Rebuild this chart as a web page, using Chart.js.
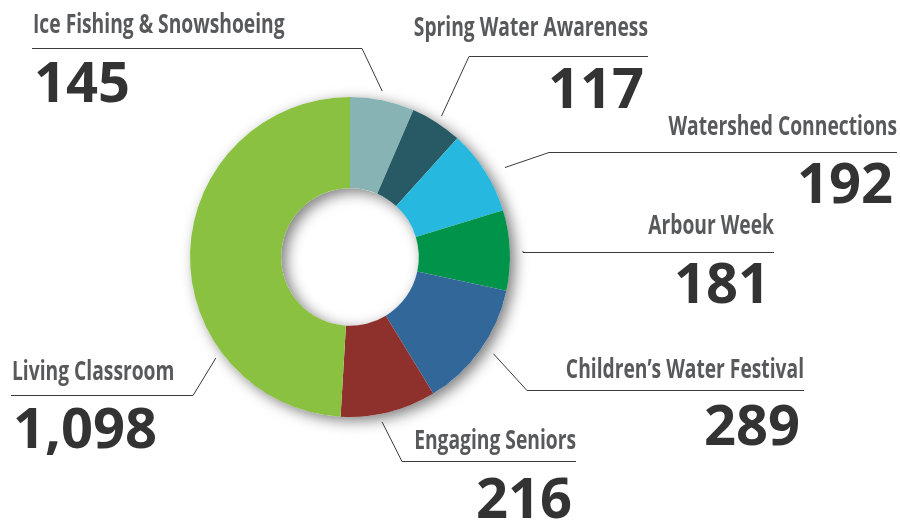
<!DOCTYPE html>
<html>
<head>
<meta charset="utf-8">
<script src="https://cdn.jsdelivr.net/npm/chart.js@4.4.1/dist/chart.umd.min.js"></script>
<style>
    html, body { margin: 0; padding: 0; background: #fff; }
    canvas { display: block; }
</style>
</head>
<body>
<canvas id="programChart" width="900" height="520"></canvas>
<script>
const programs = ['Ice Fishing & Snowshoeing', 'Spring Water Awareness', 'Watershed Connections', 'Arbour Week', 'Children’s Water Festival', 'Engaging Seniors', 'Living Classroom'];
const participants = [145, 117, 192, 181, 289, 216, 1098];
const sliceColors = ['#87b3b4', '#275a64', '#26b8de', '#00934a', '#326799', '#8e312d', '#8bc141'];

// where each callout sits: leader line y, its horizontal run (x0..x1),
// the angle (deg from 12 o'clock) where it points at the ring, and text baselines
const labelLayout = [
    { side: 'left',  lineY: 48,  x0: 32,  x1: 362, tipDeg: 11,  tipGap: 9,  textY: 33,  numY: 102 },
    { side: 'right', lineY: 56,  x0: 469, x1: 648, tipDeg: 33,  tipGap: 8,  textY: 36,  numY: 108 },
    { side: 'right', lineY: 152, x0: 549, x1: 897, tipDeg: 60,  tipGap: 19, textY: 135, numY: 203 },
    { side: 'right', lineY: 252, x0: 523, x1: 774, tipDeg: 88,  tipGap: 13, textY: 234, numY: 303 },
    { side: 'right', lineY: 390, x0: 527, x1: 804, tipDeg: 124, tipGap: 13, textY: 378, numY: 445 },
    { side: 'right', lineY: 461, x0: 402, x1: 576, tipDeg: 169, tipGap: 8,  textY: 449, numY: 518 },
    { side: 'left',  lineY: 395, x0: 11,  x1: 193, tipDeg: 233, tipGap: 8,  textY: 380, numY: 448 }
];

const ringShadow = {
    id: 'ringShadow',
    beforeDatasetsDraw(chart) {
        const arc = chart.getDatasetMeta(0).data[0];
        const ctx = chart.ctx;
        ctx.save();
        ctx.beginPath();
        ctx.arc(arc.x, arc.y, arc.outerRadius, 0, Math.PI * 2);
        ctx.arc(arc.x, arc.y, arc.innerRadius, 0, Math.PI * 2, true);
        ctx.shadowColor = 'rgba(0, 0, 0, 0.5)';
        ctx.shadowBlur = 14;
        ctx.shadowOffsetX = 5;
        ctx.shadowOffsetY = 4;
        ctx.fillStyle = '#fff';
        ctx.fill();
        ctx.restore();
    }
};

const callouts = {
    id: 'callouts',
    afterDraw(chart) {
        const arc = chart.getDatasetMeta(0).data[0];
        const ctx = chart.ctx;
        labelLayout.forEach((L, i) => {
            const a = (L.tipDeg - 90) * Math.PI / 180;
            const r = arc.outerRadius + L.tipGap;
            const tx = arc.x + r * Math.cos(a);
            const ty = arc.y + r * Math.sin(a);
            const left = L.side === 'left';
            const elbowX = left ? L.x1 : L.x0;
            const endX = left ? L.x0 : L.x1;

            ctx.save();
            ctx.strokeStyle = '#3a3a3a';
            ctx.lineWidth = 1;
            ctx.beginPath();
            ctx.moveTo(tx, ty);
            ctx.lineTo(elbowX, L.lineY + 0.5);
            ctx.lineTo(endX, L.lineY + 0.5);
            ctx.stroke();

            // condensed label
            ctx.save();
            ctx.font = 'bold 26px "Open Sans"';
            ctx.fillStyle = '#58595b';
            ctx.textAlign = left ? 'left' : 'right';
            ctx.textBaseline = 'alphabetic';
            ctx.translate(left ? L.x0 + 1 : L.x1, L.textY);
            ctx.scale(0.74, 1);
            ctx.fillText(programs[i], 0, 0);
            ctx.restore();

            // big number
            ctx.font = 'bold 56px "Open Sans"';
            ctx.fillStyle = '#333333';
            ctx.textAlign = left ? 'left' : 'right';
            ctx.textBaseline = 'alphabetic';
            ctx.fillText(participants[i].toLocaleString('en-US'), left ? L.x0 + 2 : L.x1 - 4, L.numY);
            ctx.restore();
        });
    }
};

new Chart(document.getElementById('programChart'), {
    type: 'doughnut',
    data: {
        labels: programs,
        datasets: [{
            data: participants,
            backgroundColor: sliceColors,
            borderWidth: 0,
            offset: 0,
            hoverOffset: 0
        }]
    },
    options: {
        responsive: false,
        animation: false,
        cutout: '43%',
        layout: { padding: { left: 190, right: 390, top: 97, bottom: 103 } },
        plugins: {
            legend: { display: false },
            tooltip: { enabled: false }
        },
        events: []
    },
    plugins: [ringShadow, callouts]
});
</script>
</body>
</html>
